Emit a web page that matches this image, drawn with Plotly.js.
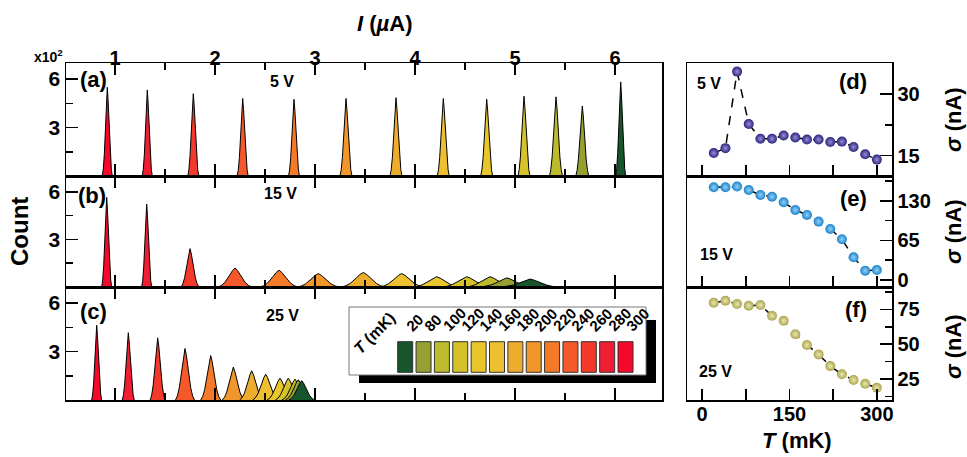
<!DOCTYPE html>
<html><head><meta charset="utf-8">
<script src="https://cdn.plot.ly/plotly-3.0.1.min.js"></script>
<style>html,body{margin:0;padding:0;background:#fff}#chart{width:967px;height:457px}</style>
</head><body><div id="chart"></div>
<script>
// Histogram peaks, listed left to right (highest T first)
const peakTemps  = [300, 280, 260, 240, 220, 200, 180, 160, 140, 120, 100, 80, 20];
const peakColors = ['#F5082A','#F01E32','#F4382A','#F5582A','#F47A2A','#F0962A','#EEAC2C','#ECC030','#E8C62C','#D5C22A','#BDBA2C','#96A030','#17552D'];

const centers5V  = [0.923, 1.323, 1.783, 2.277, 2.79, 3.31, 3.81, 4.283, 4.717, 5.09, 5.41, 5.673, 6.057];
const heights5V  = [5.5, 5.33, 5.1, 4.8, 4.75, 4.8, 4.85, 4.8, 4.75, 4.94, 4.9, 4.33, 5.83];
const halfw5V    = [0.05, 0.05, 0.055, 0.055, 0.055, 0.06, 0.06, 0.06, 0.06, 0.06, 0.065, 0.065, 0.05];

const centers15V = [0.917, 1.317, 1.75, 2.2, 2.64, 3.033, 3.483, 3.867, 4.217, 4.517, 4.75, 4.917, 5.15];
const heights15V = [5.65, 5.23, 2.42, 1.2, 1.06, 0.85, 0.92, 0.85, 0.65, 0.65, 0.65, 0.58, 0.5];
const halfw15V   = [0.05, 0.05, 0.09, 0.17, 0.19, 0.21, 0.22, 0.22, 0.23, 0.24, 0.24, 0.25, 0.28];

const centers25V = [0.817, 1.133, 1.427, 1.70, 1.957, 2.183, 2.367, 2.507, 2.65, 2.733, 2.8, 2.833, 2.867];
const heights25V = [4.63, 4.17, 3.85, 3.19, 2.75, 2.04, 1.81, 1.6, 1.35, 1.35, 1.29, 1.25, 1.2];
const halfw25V   = [0.05, 0.06, 0.075, 0.095, 0.1, 0.11, 0.12, 0.13, 0.13, 0.13, 0.13, 0.13, 0.13];

// Peak outline (relative offset, relative height)
const profileOffsets = [-1, -0.8, -0.6, -0.45, -0.3, -0.15, 0, 0.15, 0.3, 0.45, 0.6, 0.8, 1];
const profileShape   = [0, 0.08, 0.24, 0.42, 0.64, 0.86, 1, 0.86, 0.64, 0.42, 0.24, 0.08, 0];

// Width vs temperature
const tempsMK  = [20, 40, 60, 80, 100, 120, 140, 160, 180, 200, 220, 240, 260, 280, 300];
const sigma5V  = [15.6, 16.8, 35.5, 22.7, 19.1, 19.1, 19.9, 19.4, 18.9, 18.9, 18.3, 18.4, 17.1, 15.3, 14.0];
const sigma15V = [152.5, 152.5, 153.6, 148, 139.9, 137, 127.8, 115.2, 107, 96, 84, 67, 37.3, 15.3, 16.4];
const sigma25V = [79.7, 81.2, 78.8, 77.6, 78.1, 70.4, 66.8, 57.1, 49.4, 42.7, 34.3, 28.4, 24.3, 21.6, 18.8];

const W = 967, H = 457;
const FF = 'Arial, "Liberation Sans", sans-serif';
const px = v => v / W;
const py = v => 1 - v / H;

const traces = [];
function addPanel(centers, heights, halfw, xa, ya) {
  for (let i = 0; i < centers.length; i++) {
    traces.push({
      type: 'scatter', mode: 'lines', xaxis: xa, yaxis: ya,
      x: profileOffsets.map(o => centers[i] + o * halfw[i]),
      y: profileShape.map(s => s * heights[i]),
      fill: 'tozeroy', fillcolor: peakColors[i],
      line: {color: '#000', width: 1},
      hoverinfo: 'skip', showlegend: false
    });
  }
}
addPanel(centers5V, heights5V, halfw5V, 'x', 'y');
addPanel(centers15V, heights15V, halfw15V, 'x2', 'y2');
addPanel(centers25V, heights25V, halfw25V, 'x3', 'y3');

function addSigma(vals, xa, ya, edge, center) {
  traces.push({
    type: 'scatter', mode: 'lines+markers', xaxis: xa, yaxis: ya,
    x: tempsMK, y: vals,
    line: {color: '#000', width: 1.5, dash: 'dash'},
    marker: {size: 10, color: edge, line: {width: 0}, gradient: {type: 'radial', color: center}},
    showlegend: false, hoverinfo: 'skip'
  });
}
addSigma(sigma5V, 'x4', 'y4', 'rgb(45,35,125)', 'rgb(150,140,215)');
addSigma(sigma15V, 'x5', 'y5', 'rgb(25,130,205)', 'rgb(150,210,245)');
addSigma(sigma25V, 'x6', 'y6', 'rgb(170,165,80)', 'rgb(235,232,175)');

const domL = [px(66), px(662)];
const domR = [px(687), px(892)];
const dA = [py(176), py(63)], dB = [py(287), py(176)], dC = [py(400), py(287)];
const tickF = (s) => ({family: FF, size: s, color: '#000', weight: 700});

function xLeft(anchor, labels) {
  return {
    domain: domL, anchor: anchor, range: [0.51, 6.47], side: 'top',
    showline: true, linewidth: 1.5, linecolor: '#000', mirror: 'allticks',
    ticks: 'inside', ticklen: 12, tickwidth: 1.5, tickcolor: '#000',
    tickmode: 'array', tickvals: [1, 2, 3, 4, 5, 6], showticklabels: labels,
    tickfont: tickF(20), ticklabelposition: 'outside', ticklabelstandoff: -11,
    minor: {tickmode: 'array', tickvals: [1.5, 2.5, 3.5, 4.5, 5.5], ticks: 'inside', ticklen: 7, tickwidth: 1.5, tickcolor: '#000'},
    showgrid: false, zeroline: false, fixedrange: true
  };
}
function yLeft(dom, anchor) {
  return {
    domain: dom, anchor: anchor, range: [0, 7],
    showline: true, linewidth: 1.5, linecolor: '#000', mirror: true,
    ticks: 'inside', ticklen: 12, tickwidth: 1.5, tickcolor: '#000',
    tickmode: 'array', tickvals: [3, 6], tickfont: tickF(21), ticklabelstandoff: 0,
    minor: {tickmode: 'array', tickvals: [1.5, 4.5], ticks: 'inside', ticklen: 7, tickwidth: 1.5, tickcolor: '#000'},
    showgrid: false, zeroline: false, fixedrange: true
  };
}
function xRight(anchor, labels) {
  return {
    domain: domR, anchor: anchor, range: [-26, 326],
    showline: true, linewidth: 1.5, linecolor: '#000', mirror: true,
    ticks: 'inside', ticklen: 11, tickwidth: 1.5, tickcolor: '#000',
    tickmode: 'array', tickvals: [0, 150, 300],
    showticklabels: labels, tickfont: tickF(20), ticklabelposition: 'outside', ticklabelstandoff: -5,
    minor: {tickmode: 'array', tickvals: [75, 225], ticks: 'inside', ticklen: 11, tickwidth: 1.5, tickcolor: '#000'},
    showgrid: false, zeroline: false, fixedrange: true
  };
}
function yRight(dom, anchor, range, major, minor) {
  return {
    domain: dom, anchor: anchor, range: range, side: 'right',
    showline: true, linewidth: 1.5, linecolor: '#000', mirror: true,
    ticks: 'inside', ticklen: 12, tickwidth: 1.5, tickcolor: '#000',
    tickmode: 'array', tickvals: major, tickfont: tickF(20), ticklabelstandoff: 0,
    minor: {tickmode: 'array', tickvals: minor, ticks: 'inside', ticklen: 7, tickwidth: 1.5, tickcolor: '#000'},
    showgrid: false, zeroline: false, fixedrange: true
  };
}

const ann = [];
function A(x, y, text, size, extra) {
  ann.push(Object.assign({
    xref: 'paper', yref: 'paper', x: px(x), y: py(y), text: text, showarrow: false,
    xanchor: 'center', yanchor: 'middle',
    font: {family: FF, size: size, color: '#000', weight: 700}
  }, extra || {}));
}
A(48, 56, 'x10<sup>2</sup>', 14);
A(384, 24, '<i>I</i> (<i>µ</i>A)', 22);
A(19, 232, 'Count', 24, {textangle: -90});
A(93, 79, '(a)', 22);
A(282, 81, '5 V', 16);
A(92, 196, '(b)', 22);
A(280, 193, '15 V', 16);
A(93, 311, '(c)', 22);
A(282, 315, '25 V', 16);
A(853, 81, '(d)', 22);
A(709, 83, '5 V', 16);
A(853, 198, '(e)', 22);
A(716, 254, '15 V', 16);
A(856, 309, '(f)', 22);
A(715, 371, '25 V', 16);
A(797, 440, '<i>T</i> (mK)', 22);
A(953, 120, '<i>σ</i> (nA)', 22, {textangle: -90});
A(953, 232, '<i>σ</i> (nA)', 22, {textangle: -90});
A(953, 347, '<i>σ</i> (nA)', 22, {textangle: -90});

// Colour key
const shapes = [
  {type: 'rect', xref: 'paper', yref: 'paper', x0: px(359), x1: px(656), y0: py(383), y1: py(320), fillcolor: '#000', line: {width: 0}, layer: 'above'},
  {type: 'rect', xref: 'paper', yref: 'paper', x0: px(349), x1: px(646), y0: py(375), y1: py(307), fillcolor: '#fff', line: {color: '#777', width: 1}, layer: 'above'}
];
const keyTemps = peakTemps.slice().reverse();
const keyColors = peakColors.slice().reverse();
keyTemps.forEach((t, i) => {
  const x0 = 397.7 + 18.36 * i;
  shapes.push({type: 'rect', xref: 'paper', yref: 'paper', x0: px(x0), x1: px(x0 + 15), y0: py(372.3), y1: py(341.7),
    fillcolor: keyColors[i], line: {color: '#333', width: 1}, layer: 'above'});
  A(x0 + 2, 337, String(t), 15, {textangle: -45, xanchor: 'left', yanchor: 'bottom'});
});
A(374, 333, '<i>T</i> (mK)', 16, {textangle: -45});

const layout = {
  width: W, height: H, margin: {l: 0, r: 0, t: 0, b: 0},
  paper_bgcolor: '#fff', plot_bgcolor: '#fff', showlegend: false,
  font: {family: FF, color: '#000'},
  xaxis: xLeft('y', true), xaxis2: Object.assign(xLeft('y2', false), {matches: 'x'}), xaxis3: Object.assign(xLeft('y3', false), {matches: 'x'}),
  yaxis: yLeft(dA, 'x'), yaxis2: yLeft(dB, 'x2'), yaxis3: yLeft(dC, 'x3'),
  xaxis4: xRight('y4', false), xaxis5: xRight('y5', false), xaxis6: Object.assign(xRight('y6', true), {side: 'bottom'}),
  yaxis4: yRight(dA, 'x4', [10, 37.6], [15, 30], [22.5, 37.5]),
  yaxis5: yRight(dB, 'x5', [-11.5, 171], [0, 65, 130], [32.5, 97.5, 162.5]),
  yaxis6: yRight(dC, 'x6', [10, 91], [25, 50, 75], [12.5, 37.5, 62.5, 87.5]),
  annotations: ann, shapes: shapes
};
Plotly.newPlot('chart', traces, layout, {displayModeBar: false, staticPlot: true});
</script>
</body></html>
